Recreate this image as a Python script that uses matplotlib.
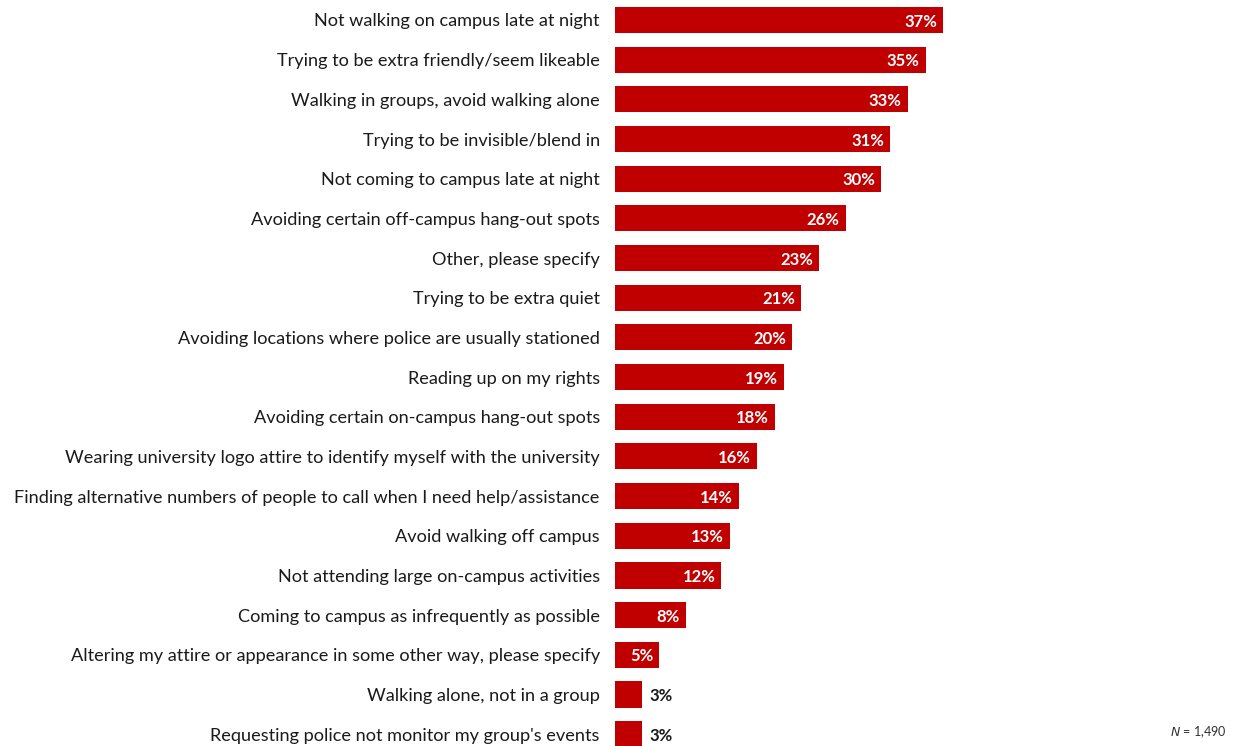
import matplotlib
matplotlib.use("Agg")
import matplotlib.pyplot as plt

# Share of respondents reporting each behaviour (%)
categories = [
    "Not walking on campus late at night",
    "Trying to be extra friendly/seem likeable",
    "Walking in groups, avoid walking alone",
    "Trying to be invisible/blend in",
    "Not coming to campus late at night",
    "Avoiding certain off-campus hang-out spots",
    "Other, please specify",
    "Trying to be extra quiet",
    "Avoiding locations where police are usually stationed",
    "Reading up on my rights",
    "Avoiding certain on-campus hang-out spots",
    "Wearing university logo attire to identify myself with the university",
    "Finding alternative numbers of people to call when I need help/assistance",
    "Avoid walking off campus",
    "Not attending large on-campus activities",
    "Coming to campus as infrequently as possible",
    "Altering my attire or appearance in some other way, please specify",
    "Walking alone, not in a group",
    "Requesting police not monitor my group's events",
]
values = [37, 35, 33, 31, 30, 26, 23, 21, 20, 19, 18, 16, 14, 13, 12, 8, 5, 3, 3]

BAR_COLOR = "#C00000"
FONT = ["Lato", "DejaVu Sans"]

fig = plt.figure(figsize=(12.36, 7.46), dpi=100)
ax = fig.add_axes([0.4976, 0.0, 0.5024, 1.0])

pos = list(range(len(values)))
ax.barh(pos, values, height=0.66, color=BAR_COLOR)

ax.set_xlim(0, 70)
ax.set_ylim(18.30, -0.504)

for i, v in enumerate(values):
    if v >= 5:
        ax.text(v - 0.7, i + 0.04, f"{v}%", ha="right", va="center", color="white",
                fontsize=12, fontweight="bold", family=FONT)
    else:
        ax.text(v + 0.9, i + 0.04, f"{v}%", ha="left", va="center", color="#1a1a1a",
                fontsize=12, fontweight="bold", family=FONT)

ax.set_yticks(pos)
ax.set_yticklabels(categories, fontsize=13.1, family=FONT, color="#1a1a1a")
ax.tick_params(axis="y", length=0, pad=11)
ax.set_xticks([])
for side in ax.spines.values():
    side.set_visible(False)

fig.text(0.992, 0.018, "$\\it{N}$ = 1,490", ha="right", va="center",
         fontsize=9, color="#333333", family=FONT)

fig.savefig("out.png", dpi=100)
